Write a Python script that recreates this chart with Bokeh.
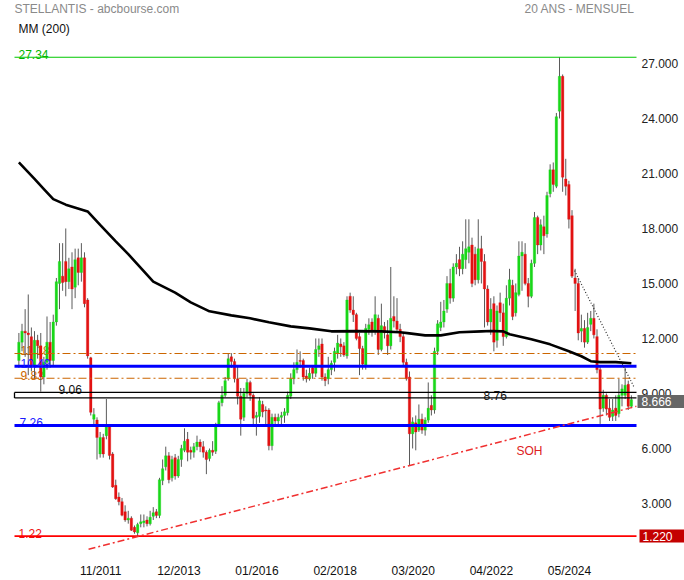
import numpy as np
import pandas as pd
from bokeh.plotting import figure
from bokeh.models import Range1d, FixedTicker, Label, ColumnDataSource
from bokeh.core.properties import value
from bokeh.embed import file_html
from bokeh.resources import INLINE

# ---------------- data (monthly candles, first month Oct 2009) ----------------
FIRST_MONTH = "2009-10"

opens = [
    10.8, 11.8, 12.4,
    12.3, 12.1, 10.5, 11.9, 11.6, 9.9, 10.7, 11.8, 10.8, 12.9, 15.0, 15.4,
    16.2, 15.1, 15.9, 14.8, 16.4, 15.6, 16.4, 14.1, 10.95, 7.6, 7.55, 5.7,
    6.6, 6.7, 7.25, 5.7, 3.99, 3.35, 3.1, 2.55, 2.1, 2.2, 1.7, 1.4,
    1.9, 1.95, 2.1, 1.9, 2.3, 2.55, 2.35, 4.25, 5.0, 5.6, 4.4, 5.5,
    4.5, 5.4, 5.9, 6.5, 5.9, 5.8, 6.1, 6.35, 6.1, 5.8, 5.45, 5.9,
    5.85, 7.3, 8.5, 8.9, 9.8, 11.0, 10.75, 9.8, 8.85, 7.7, 9.0, 9.6,
    8.9, 7.7, 7.75, 8.4, 8.1, 8.1, 6.15, 7.7, 7.5, 7.7, 7.8, 7.95,
    8.85, 9.8, 10.3, 10.8, 10.8, 9.95, 9.8, 10.4, 10.1, 11.4, 11.7, 9.9,
    9.8, 10.3, 10.7, 11.2, 11.7, 11.6, 11.05, 14.3, 13.55, 13.3, 12.1, 11.45,
    10.5, 12.5, 12.9, 12.4, 13.1, 11.4, 12.65, 12.2, 11.6, 13.2, 12.95, 12.5,
    12.1, 10.7, 9.9, 6.8, 7.4, 7.0, 7.6, 7.0, 7.55, 8.35, 8.1, 11.3,
    12.6, 12.9, 13.6, 15.0, 14.2, 15.9, 16.3, 15.8, 16.3, 16.7, 17.1, 16.6,
    15.2, 16.9, 16.2, 14.7, 12.9, 13.9, 11.9, 13.95, 13.4, 12.1, 14.2, 14.9,
    13.4, 14.4, 16.5, 16.6, 15.0, 14.3, 16.1, 18.6, 17.1, 18.1, 17.7, 19.9,
    21.2, 20.3, 24.4, 26.3, 20.7, 20.4, 18.7, 15.3, 15.0, 12.4, 12.55, 11.8,
    12.77, 13.1, 12.1, 10.3, 8.2, 8.9, 8.2, 7.75, 8.2, 7.9, 8.9, 8.9,
    9.5, 8.3,
]
highs = [
    12.3, 12.8, 13.6,
    14.4, 12.6, 12.4, 12.2, 12.3, 11.0, 13.2, 12.9, 13.3, 15.3, 17.2, 17.2,
    18.0, 16.4, 16.7, 16.9, 16.9, 17.2, 16.7, 14.2, 11.0, 8.2, 7.7, 6.9,
    6.8, 8.7, 7.3, 5.8, 4.3, 3.6, 3.3, 2.9, 2.6, 2.3, 1.8, 1.95,
    2.4, 2.4, 2.3, 2.6, 2.8, 2.7, 4.4, 5.4, 6.1, 5.8, 5.6, 5.7,
    5.6, 6.2, 7.1, 6.9, 6.1, 6.3, 6.7, 6.5, 6.4, 5.9, 6.0, 6.4,
    7.4, 8.6, 9.4, 9.9, 11.2, 11.2, 10.9, 10.5, 9.3, 9.3, 9.8, 9.7,
    9.0, 8.0, 8.8, 8.6, 8.3, 8.2, 7.9, 7.9, 7.9, 8.0, 8.2, 9.1,
    10.1, 10.7, 11.4, 11.3, 10.9, 10.3, 10.4, 10.5, 12.0, 12.0, 12.0, 10.1,
    11.0, 10.8, 11.5, 12.2, 12.0, 11.8, 14.3, 14.5, 14.3, 13.4, 12.3, 11.6,
    12.8, 13.1, 13.1, 14.3, 13.3, 13.9, 12.9, 13.0, 15.9, 14.3, 14.2, 12.8,
    12.3, 10.9, 10.2, 7.7, 7.8, 8.4, 7.9, 7.7, 9.6, 8.9, 11.5, 13.0,
    14.0, 14.1, 15.4, 15.8, 16.1, 16.6, 17.0, 17.3, 18.5, 18.5, 17.5, 17.0,
    18.5, 17.6, 16.6, 14.9, 14.2, 14.3, 13.8, 14.5, 13.9, 14.9, 15.8, 15.2,
    15.0, 17.3, 17.3, 17.2, 15.3, 16.3, 18.9, 18.7, 18.5, 18.7, 20.0, 21.5,
    21.6, 24.3, 27.34, 26.4, 21.8, 20.6, 19.0, 15.8, 15.3, 13.3, 13.0, 13.4,
    13.5, 13.9, 12.5, 10.5, 9.2, 9.0, 8.7, 8.7, 8.9, 9.8, 9.5, 10.4,
    9.7, 8.9,
]
lows = [
    10.4, 11.3, 11.0,
    10.0, 10.2, 9.8, 10.9, 9.1, 9.5, 10.3, 10.4, 10.5, 12.7, 13.6, 14.6,
    14.3, 14.7, 13.6, 14.2, 14.9, 15.1, 13.7, 10.9, 7.8, 7.2, 5.4, 5.5,
    5.5, 6.5, 5.4, 3.85, 3.2, 2.9, 2.3, 2.0, 1.9, 1.5, 1.35, 1.22,
    1.7, 1.7, 1.75, 1.8, 2.1, 2.2, 2.2, 4.0, 4.8, 4.1, 4.2, 4.3,
    4.4, 5.0, 5.8, 5.3, 5.4, 5.5, 5.9, 5.8, 5.5, 4.6, 5.3, 5.6,
    5.7, 7.2, 8.3, 8.8, 9.7, 10.4, 9.6, 8.4, 6.7, 7.5, 8.8, 8.6,
    7.3, 6.7, 7.4, 7.7, 7.3, 5.9, 5.9, 7.3, 7.2, 7.3, 7.4, 7.8,
    8.7, 9.5, 10.1, 10.4, 9.7, 9.6, 9.7, 9.8, 9.9, 11.0, 9.7, 9.4,
    9.5, 10.0, 10.2, 10.9, 11.0, 11.0, 10.9, 13.4, 12.9, 11.9, 10.0, 10.3,
    10.3, 12.2, 12.1, 12.2, 11.1, 11.3, 12.0, 11.1, 11.4, 12.6, 12.3, 11.8,
    10.5, 9.7, 5.05, 6.0, 5.9, 6.9, 6.8, 6.7, 7.4, 7.8, 7.9, 11.1,
    12.4, 12.6, 13.4, 13.9, 14.0, 15.5, 15.4, 15.5, 15.8, 16.1, 14.8, 14.9,
    15.0, 15.0, 12.6, 12.7, 12.2, 11.3, 11.5, 12.9, 11.6, 12.0, 13.8, 13.0,
    13.2, 14.3, 14.6, 14.9, 13.7, 14.2, 15.9, 16.6, 16.8, 16.6, 17.5, 19.7,
    20.0, 20.2, 24.0, 20.0, 19.8, 18.0, 15.3, 13.5, 11.9, 11.8, 11.5, 11.7,
    12.4, 12.0, 10.1, 7.34, 8.0, 7.8, 7.5, 7.5, 7.5, 7.7, 8.3, 8.7,
    8.1, 8.2,
]
closes = [
    11.8, 12.4, 12.3,
    12.2, 10.5, 11.9, 11.6, 9.9, 10.7, 11.8, 10.8, 12.9, 15.1, 16.2, 15.05,
    15.1, 15.8, 14.7, 16.3, 15.6, 16.4, 13.9, 11.05, 7.97, 7.85, 6.6, 6.6,
    5.7, 7.25, 5.62, 3.9, 3.26, 3.1, 2.36, 2.1, 2.2, 1.54, 1.45, 1.85,
    2.0, 2.05, 1.9, 2.25, 2.5, 2.35, 4.3, 4.9, 5.6, 4.3, 5.4, 4.5,
    5.4, 6.0, 6.4, 5.8, 5.8, 6.1, 6.35, 6.1, 5.8, 5.4, 5.9, 5.8,
    7.3, 8.5, 8.9, 9.7, 10.9, 10.75, 9.8, 8.85, 7.6, 9.0, 9.6, 8.9,
    7.65, 7.8, 8.6, 8.0, 8.05, 6.15, 7.7, 7.5, 7.7, 7.8, 8.0, 8.9,
    9.8, 10.3, 10.7, 10.75, 9.9, 9.8, 10.1, 10.1, 11.4, 11.6, 9.9, 9.7,
    10.3, 10.65, 11.3, 11.75, 11.55, 11.1, 14.1, 13.55, 13.3, 12.0, 11.45, 10.6,
    12.55, 12.75, 12.4, 13.3, 11.4, 12.7, 12.3, 11.6, 13.1, 12.95, 12.5, 12.1,
    10.7, 9.8, 6.8, 7.45, 6.9, 7.6, 7.0, 7.55, 8.2, 8.1, 11.3, 12.8,
    12.9, 13.5, 15.0, 14.2, 15.9, 16.1, 15.8, 16.6, 16.9, 17.0, 15.0, 15.2,
    16.9, 16.2, 14.7, 12.9, 13.6, 11.8, 13.5, 13.4, 12.1, 14.2, 15.2, 13.2,
    14.5, 16.5, 16.7, 15.0, 14.3, 16.1, 18.6, 17.1, 18.2, 17.6, 19.8, 21.2,
    20.4, 24.1, 26.3, 20.8, 20.3, 18.5, 15.4, 15.0, 12.3, 12.55, 11.8, 12.6,
    13.1, 12.2, 10.3, 8.15, 8.9, 8.15, 7.7, 8.1, 7.8, 8.9, 9.25, 9.45,
    8.3, 8.666,
]

# MM(200): candle index (0 = Oct 2009) and value
ma_idx = [0, 5, 8, 11, 15, 22, 26, 31, 35, 39, 43, 50, 55, 61, 68, 74, 80, 87, 93,
          100, 108, 116, 122, 125, 130, 135, 141, 148, 151, 155, 157, 164, 170, 176,
          180, 183, 186, 191, 196]
ma_val = [21.6, 20.7, 20.15, 19.6, 19.3, 18.93, 18.2, 17.3, 16.6, 15.85, 15.1, 14.5,
          13.97, 13.48, 13.26, 13.1, 12.88, 12.66, 12.55, 12.39, 12.4, 12.39, 12.34,
          12.28, 12.17, 12.17, 12.34, 12.39, 12.41, 12.39, 12.23, 11.96, 11.68, 11.3,
          11.03, 10.76, 10.71, 10.71, 10.65]

x_tick_labels = ["11/2011", "12/2013", "01/2016", "02/2018", "03/2020", "04/2022", "05/2024"]
y_ticks = [3, 6, 9, 12, 15, 18, 21, 24, 27]

level_top = 27.34
level_bottom = 1.22
orange_levels = [11.18, 9.83]
blue_levels = [10.49, 7.26]
box_levels = [8.76, 9.06]
last_price = 8.666

soh_idx = [22.3, 197.6]     # support line (SOH) anchors
soh_val = [0.50, 8.30]
res_idx = [177.8, 197.0]    # dotted resistance anchors
res_val = [15.70, 9.30]

assert len(opens) == len(highs) == len(lows) == len(closes)

# ---------------- layout: screen px <-> data ----------------
W, H = 684, 580
PLOT_L, PLOT_R = 14, 636          # price area
X_AT_L, X_AT_R = -1.4, 197.64     # candle index at those pixels
PX_PER_UNIT = 18.4                # vertical scale
Y_ZERO_PX = 560                   # pixel of value 0
BOTTOM_STRIP = 24                 # room for the date axis


def dx(sx):
    return X_AT_L + (sx - PLOT_L) * (X_AT_R - X_AT_L) / (PLOT_R - PLOT_L)


def dy(sy):
    return (Y_ZERO_PX - sy) / PX_PER_UNIT


FONT = "Liberation Sans"
GREEN = "#19d719"
RED = "#e21212"
WICK = "#5a5a5a"

months = pd.period_range(FIRST_MONTH, periods=len(closes), freq="M")
month_labels = list(months.strftime("%m/%Y"))
idx = np.arange(len(closes))
o = np.array(opens)
c = np.array(closes)
src = ColumnDataSource(dict(
    x=idx, h=highs, l=lows,
    top=np.maximum(o, c), bottom=np.minimum(o, c),
    color=[GREEN if cc >= oo else RED for oo, cc in zip(o, c)],
))

p = figure(width=W, height=H,
           x_range=Range1d(dx(0), dx(W)), y_range=Range1d(dy(H - BOTTOM_STRIP), dy(0)),
           y_axis_location=None, toolbar_location=None, output_backend="svg",
           min_border_left=0, min_border_right=0, min_border_top=0,
           min_border_bottom=BOTTOM_STRIP,
           background_fill_color="white", border_fill_color="white",
           outline_line_color=None)
p.xgrid.visible = False
p.ygrid.visible = False

# date axis
tick_pos = [month_labels.index(t) + 1.2 for t in x_tick_labels]
xa = p.xaxis[0]
xa.ticker = FixedTicker(ticks=tick_pos)
xa.major_label_overrides = {tp: t for tp, t in zip(tick_pos, x_tick_labels)}
xa.axis_line_color = None
xa.major_tick_line_color = None
xa.minor_tick_line_color = None
xa.major_tick_out = 0
xa.major_tick_in = 0
xa.minor_tick_out = 0
xa.major_label_standoff = 9
xa.major_label_text_font = FONT
xa.major_label_text_font_size = "12px"
xa.major_label_text_color = "#111111"

# price scale on the right
xl, xr = dx(PLOT_L), dx(PLOT_R)
p.text(x=[dx(641)] * len(y_ticks), y=y_ticks, text=[f"{t:.3f}" for t in y_ticks],
       text_font=value(FONT), text_font_size="12px", text_color="#222222",
       text_baseline="middle", text_align="left")


# left level labels
def lvl_label(text, sx, y, color, level="underlay"):
    p.add_layout(Label(x=dx(sx), y=y, text=text, text_color=color, text_font=FONT,
                       text_font_size="12px", text_baseline="alphabetic",
                       y_offset=3, level=level))


lvl_label(f"{level_top:.2f}", 18, level_top, "#00b400")
lvl_label(f"{orange_levels[0]:.2f}", 20, orange_levels[0], "#cc6600")
lvl_label(f"{orange_levels[1]:.2f}", 20, orange_levels[1], "#cc6600")
lvl_label(f"{box_levels[1]:.2f}", 58, box_levels[1], "#111111")
lvl_label(f"{blue_levels[1]:.2f}", 19, blue_levels[1], "#1a1aff")
lvl_label(f"{level_bottom:.2f}", 18, level_bottom, "#ee1111")

# candles
p.segment(x0="x", y0="l", x1="x", y1="h", source=src, line_color=WICK, line_width=1)
p.vbar(x="x", width=0.8, top="top", bottom="bottom", source=src,
       fill_color="color", line_color="color", line_width=0.3)

# horizontal levels across the price area
p.segment(x0=[xl], x1=[xr], y0=[level_top], y1=[level_top], line_color="#00c800", line_width=1.2)
p.segment(x0=[xl], x1=[xr], y0=[level_bottom], y1=[level_bottom], line_color="#ff0000", line_width=1.6)
p.segment(x0=[xl] * 2, x1=[xr] * 2, y0=orange_levels, y1=orange_levels,
          line_color="#cc6600", line_width=1.2, line_dash="8 3 2 3")
p.segment(x0=[xl] * 2, x1=[xr] * 2, y0=blue_levels, y1=blue_levels,
          line_color="#0000ff", line_width=3)
p.segment(x0=[xl, xl, xl], x1=[xr, xr, xl],
          y0=[box_levels[0], box_levels[1], box_levels[0]],
          y1=[box_levels[0], box_levels[1], box_levels[1]],
          line_color="black", line_width=1.3)

# blue label drawn over the candles
p.add_layout(Label(x=dx(20), y=blue_levels[0], text=f"{blue_levels[0]:.2f}", text_color="#1a1aff",
                   text_font=FONT, text_font_size="12px", text_baseline="alphabetic", y_offset=3))

# trend lines
p.line(soh_idx, soh_val, line_color="#f03030", line_width=1.5, line_dash="7 3 2 3")
p.line(res_idx, res_val, line_color="#333333", line_width=1.2, line_dash="1 2")

# moving average
p.line(ma_idx, ma_val, line_color="black", line_width=2.6)

# texts on the chart
p.add_layout(Label(x=dx(483), y=box_levels[0], text=f"{box_levels[0]:.2f}", text_color="#111111",
                   text_font=FONT, text_font_size="12px", text_baseline="alphabetic", y_offset=2))
p.add_layout(Label(x=dx(516), y=dy(452), text="SOH", text_color="#dd2222",
                   text_font=FONT, text_font_size="12px", text_baseline="alphabetic"))

# header
p.add_layout(Label(x=dx(14), y=dy(9), text="STELLANTIS - abcbourse.com", text_color="#8a8a8a",
                   text_font=FONT, text_font_size="12px", text_baseline="middle"))
p.add_layout(Label(x=dx(634), y=dy(9), text="20 ANS - MENSUEL", text_color="#8a8a8a",
                   text_font=FONT, text_font_size="12px", text_baseline="middle", text_align="right"))
p.add_layout(Label(x=dx(18), y=dy(29), text="MM (200)", text_color="#111111",
                   text_font=FONT, text_font_size="12px", text_baseline="middle"))

# price boxes on the right scale
p.add_layout(Label(x=dx(637), y=last_price, text=f"{last_price:.3f}", text_color="white",
                   text_font=FONT, text_font_size="12px", text_baseline="middle",
                   background_fill_color="#666666", y_offset=-2,
                   padding=dict(left=4, right=14, top=2, bottom=2)))
p.add_layout(Label(x=dx(639), y=level_bottom, text=f"{level_bottom:.3f}", text_color="white",
                   text_font=FONT, text_font_size="12px", text_baseline="middle",
                   background_fill_color="#c40000",
                   padding=dict(left=3, right=14, top=2, bottom=2)))

open("out.html", "w").write(file_html(p, INLINE))
